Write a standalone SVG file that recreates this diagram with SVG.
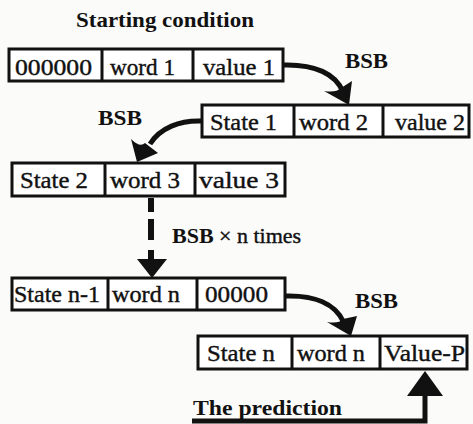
<svg xmlns="http://www.w3.org/2000/svg" width="473" height="424" viewBox="0 0 473 424">
<style>
.bg{fill:#fbfbf9}
.cell{fill:#ffffff;stroke:#111;stroke-width:3}
.t{font-family:"Liberation Serif","Times New Roman",serif;font-size:23px;fill:#111;stroke:#111;stroke-width:0.4}
.b{font-family:"Liberation Serif","Times New Roman",serif;font-size:22px;font-weight:bold;fill:#111}
.r{font-family:"Liberation Serif","Times New Roman",serif;font-size:22px;fill:#111;stroke:#111;stroke-width:0.4}
.c{fill:none;stroke:#111;stroke-width:5}
.h{fill:#111;stroke:none}
</style>
<rect class="bg" x="0" y="0" width="473" height="424"/>
<g id="label-start"><text class="b" x="76" y="27" textLength="178" lengthAdjust="spacingAndGlyphs">Starting condition</text></g>
<g id="row1">
<rect class="cell" x="9" y="49" width="274" height="32"/>
<line class="cell" x1="102" y1="49" x2="102" y2="81"/>
<line class="cell" x1="193" y1="49" x2="193" y2="81"/>
<text class="t" x="15" y="75" textLength="77" lengthAdjust="spacingAndGlyphs">000000</text>
<text class="t" x="110" y="75" textLength="65" lengthAdjust="spacingAndGlyphs">word 1</text>
<text class="t" x="203" y="75" textLength="72" lengthAdjust="spacingAndGlyphs">value 1</text>
</g>
<g id="row2">
<rect class="cell" x="202" y="105" width="267" height="32"/>
<line class="cell" x1="294" y1="105" x2="294" y2="137"/>
<line class="cell" x1="383" y1="105" x2="383" y2="137"/>
<text class="t" x="210" y="130" textLength="67" lengthAdjust="spacingAndGlyphs">State 1</text>
<text class="t" x="299" y="130" textLength="69" lengthAdjust="spacingAndGlyphs">word 2</text>
<text class="t" x="395" y="130" textLength="70" lengthAdjust="spacingAndGlyphs">value 2</text>
</g>
<g id="row3">
<rect class="cell" x="12" y="163" width="273" height="33"/>
<line class="cell" x1="105" y1="163" x2="105" y2="196"/>
<line class="cell" x1="195" y1="163" x2="195" y2="196"/>
<text class="t" x="20" y="188" textLength="68" lengthAdjust="spacingAndGlyphs">State 2</text>
<text class="t" x="110" y="188" textLength="70" lengthAdjust="spacingAndGlyphs">word 3</text>
<text class="t" x="199" y="188" textLength="80" lengthAdjust="spacingAndGlyphs">value 3</text>
</g>
<g id="row4">
<rect class="cell" x="12" y="278" width="273" height="32"/>
<line class="cell" x1="108" y1="278" x2="108" y2="310"/>
<line class="cell" x1="197" y1="278" x2="197" y2="310"/>
<text class="t" x="14" y="302" textLength="86" lengthAdjust="spacingAndGlyphs">State n-1</text>
<text class="t" x="112" y="302" textLength="68" lengthAdjust="spacingAndGlyphs">word n</text>
<text class="t" x="205" y="302" textLength="63" lengthAdjust="spacingAndGlyphs">00000</text>
</g>
<g id="row5">
<rect class="cell" x="198" y="336" width="269" height="33"/>
<line class="cell" x1="292" y1="336" x2="292" y2="369"/>
<line class="cell" x1="380" y1="336" x2="380" y2="369"/>
<text class="t" x="207" y="361" textLength="68" lengthAdjust="spacingAndGlyphs">State n</text>
<text class="t" x="297" y="361" textLength="68" lengthAdjust="spacingAndGlyphs">word n</text>
<text class="t" x="384" y="361" textLength="81" lengthAdjust="spacingAndGlyphs">Value-P</text>
</g>
<g id="connectors">
<path class="c" d="M283,65 C315,64 336,74 343,92"/>
<path class="h" d="M349,105 L324,91 Q336,93 341,88 L352,81 Z"/>
<path class="c" d="M202,121 C180,120 160,128 150,144"/>
<path class="h" d="M137,162 L131,139 Q140,148 145,143 L158,153 Z"/>
<rect class="h" x="148" y="198" width="6" height="14"/>
<rect class="h" x="148" y="219" width="6" height="21"/>
<rect class="h" x="148" y="250" width="6" height="12"/>
<polygon class="h" points="137,259 167,259 152,278"/>
<path class="c" d="M285,296 C315,295 335,304 343,321"/>
<path class="h" d="M351,336 L327,322 Q339,324 343,319 L357,316 Z"/>
<polyline class="c" points="192,421 425,421 425,392" stroke-width="4"/>
<polygon class="h" points="407,396 443,396 425,371"/>
</g>
<g id="labels">
<text class="b" x="345" y="68" textLength="43" lengthAdjust="spacingAndGlyphs">BSB</text>
<text class="b" x="98" y="125" textLength="44" lengthAdjust="spacingAndGlyphs">BSB</text>
<text x="172" y="243"><tspan class="b">BSB</tspan><tspan class="r"> × n times</tspan></text>
<text class="b" x="355" y="308" textLength="43" lengthAdjust="spacingAndGlyphs">BSB</text>
<text class="b" x="193" y="415" textLength="149" lengthAdjust="spacingAndGlyphs">The prediction</text>
</g>
</svg>
